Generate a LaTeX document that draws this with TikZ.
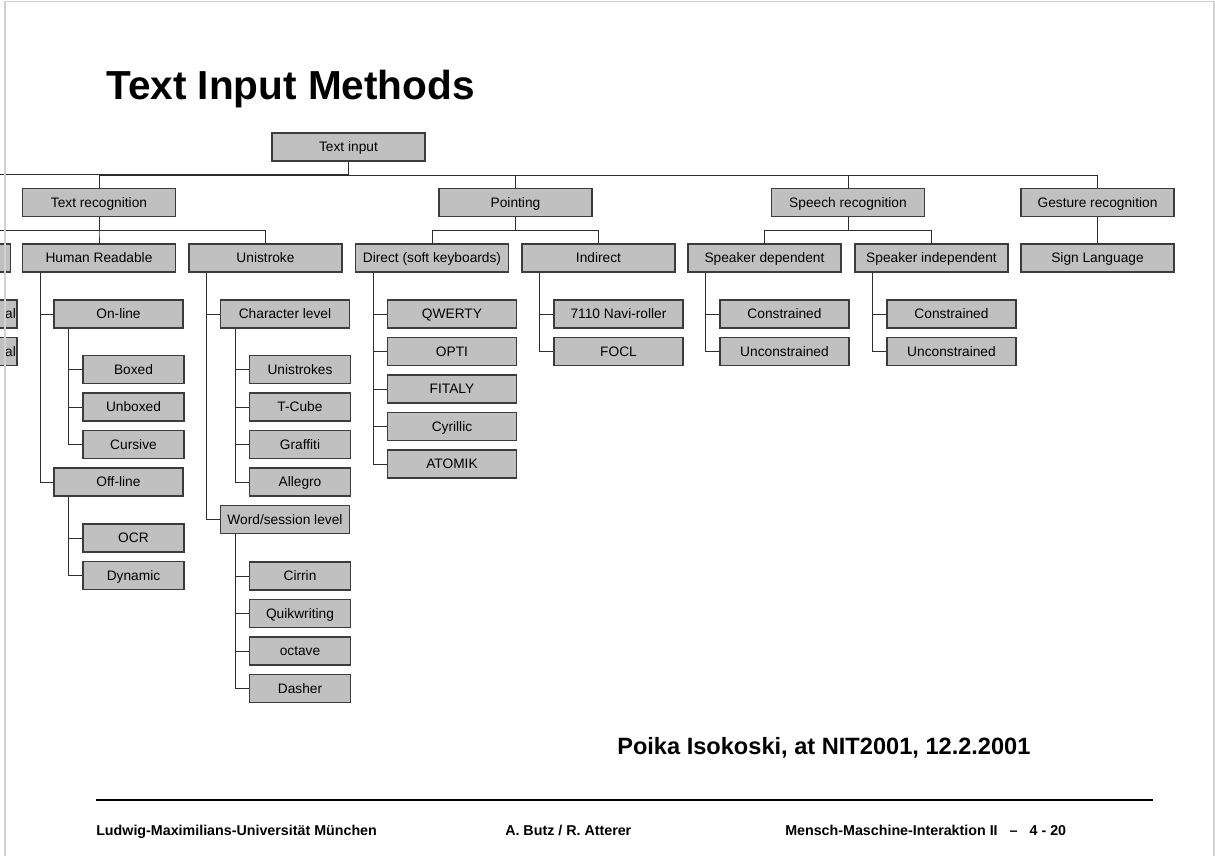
\documentclass[tikz,border=0pt]{standalone}
\usepackage{fontspec}
\setmainfont{Liberation Sans}
\usetikzlibrary{calc}
\definecolor{boxgray}{RGB}{192,192,192}
\definecolor{boxline}{RGB}{60,60,60}
\definecolor{edgegray}{RGB}{45,45,45}
\definecolor{framegray}{RGB}{210,210,210}
% trunk offsets of the indented lists (from the parent's left edge)
\def\trunkA{13.875pt}
\def\trunkB{11.625pt}
\begin{document}
\begin{tikzpicture}[x=0.75pt,y=-0.75pt,
  box/.style={draw=boxline, fill=boxgray, line width=0.85pt, inner sep=0pt,
    minimum height=21pt, text height=7.4pt, text depth=0pt,
    font=\fontsize{10.3}{12}\selectfont},
  bigbox/.style={box, minimum width=114.75pt},
  midbox/.style={box, minimum width=96.75pt},
  smallbox/.style={box, minimum width=75.75pt},
  link/.style={draw=edgegray, line width=0.75pt},
  foot/.style={inner sep=0pt, anchor=base west, font=\fontsize{10.7}{12}\selectfont\bfseries}]
\useasboundingbox (0,0) rectangle (1215,856);
\clip (0,0) rectangle (1215,856);

% title
\node[anchor=base west, inner sep=0pt, font=\fontsize{30.4}{36}\selectfont\bfseries] (title) at (106,100) {Text Input Methods};

% root and first level
\node[bigbox] (ti) at (348.5,147) {Text input};
\node[bigbox] (tr) at (99,202.5) {Text recognition};
\node[bigbox] (pt) at (515.5,202.5) {Pointing};
\node[bigbox] (sr) at (848,202.5) {Speech recognition};
\node[bigbox] (gr) at (1097.5,202.5) {Gesture recognition};
\coordinate (busw) at (-10,174.75);

% second level
\node[bigbox] (mr) at (-66,258) {};
\node[bigbox] (hr) at (99,258) {Human Readable};
\node[bigbox] (us) at (265.5,258) {Unistroke};
\node[bigbox] (dsk) at (432,258) {Direct (soft keyboards)};
\node[bigbox] (ind) at (598.5,258) {Indirect};
\node[bigbox] (spd) at (764.5,258) {Speaker dependent};
\node[bigbox] (spi) at (931.5,258) {Speaker independent};
\node[bigbox] (sl) at (1097.5,258) {Sign Language};

% leftmost group, mostly outside the page
\node[midbox, text width=95pt, align=right] (mra) at (-47.5,314) {al};
\node[midbox, text width=95pt, align=right] (mrb) at (-47.5,351.5) {al};

% human readable
\node[midbox] (on) at (118.5,314) {On-line};
\node[smallbox] (bx) at (133.5,369.5) {Boxed};
\node[smallbox] (ubx) at (133.5,407) {Unboxed};
\node[smallbox] (cur) at (133.5,444.5) {Cursive};
\node[midbox] (off) at (118.5,482) {Off-line};
\node[smallbox] (ocr) at (133.5,538) {OCR};
\node[smallbox] (dyn) at (133.5,575.5) {Dynamic};

% unistroke
\node[midbox] (chl) at (285,314) {Character level};
\node[smallbox] (uni) at (300,369.5) {Unistrokes};
\node[smallbox] (tc) at (300,407) {T-Cube};
\node[smallbox] (gra) at (300,444.5) {Graffiti};
\node[smallbox] (all) at (300,482) {Allegro};
\node[midbox] (wsl) at (285,519.5) {Word/session level};
\node[smallbox] (cir) at (300,576) {Cirrin};
\node[smallbox] (qui) at (300,613.5) {Quikwriting};
\node[smallbox] (oct) at (300,651) {octave};
\node[smallbox] (das) at (300,688.5) {Dasher};

% soft keyboards
\node[midbox] (qw) at (452,314) {QWERTY};
\node[midbox] (opt) at (452,351.5) {OPTI};
\node[midbox] (fit) at (452,389) {FITALY};
\node[midbox] (cyr) at (452,426.5) {Cyrillic};
\node[midbox] (ato) at (452,464) {ATOMIK};

% indirect pointing
\node[midbox] (nav) at (618.5,314) {7110 Navi-roller};
\node[midbox] (foc) at (618.5,351.5) {FOCL};

% speech
\node[midbox] (dc) at (784.5,314) {Constrained};
\node[midbox] (du) at (784.5,351.5) {Unconstrained};
\node[midbox] (ic) at (951.5,314) {Constrained};
\node[midbox] (iu) at (951.5,351.5) {Unconstrained};

% organisation-chart connectors
\draw[link] (busw) -- (busw -| ti.south);
\foreach \c in {tr,pt,sr,gr}
  \draw[link] (ti.south) -- ++(0,13.75) -| (\c.north);
\foreach \c in {mr,hr,us}
  \draw[link] (tr.south) -- ++(0,13.75) -| (\c.north);
\foreach \c in {dsk,ind}
  \draw[link] (pt.south) -- ++(0,13.75) -| (\c.north);
\foreach \c in {spd,spi}
  \draw[link] (sr.south) -- ++(0,13.75) -| (\c.north);
\draw[link] (gr.south) -- (sl.north);

% indented list connectors
\foreach \p/\c in {mr/mra, mr/mrb, hr/on, hr/off, us/chl, us/wsl,
    dsk/qw, dsk/opt, dsk/fit, dsk/cyr, dsk/ato, ind/nav, ind/foc,
    spd/dc, spd/du, spi/ic, spi/iu}
  \draw[link] ([xshift=\trunkA]\p.south west) |- (\c.west);
\foreach \p/\c in {on/bx, on/ubx, on/cur, off/ocr, off/dyn,
    chl/uni, chl/tc, chl/gra, chl/all, wsl/cir, wsl/qui, wsl/oct, wsl/das}
  \draw[link] ([xshift=\trunkB]\p.south west) |- (\c.west);

% source line
\node[inner sep=0pt, anchor=base west, font=\fontsize{17.7}{20}\selectfont\bfseries] (src) at (617,754) {Poika Isokoski, at NIT2001, 12.2.2001};

% footer
\draw[line width=1.7pt] (96,800) -- (1153,800);
\node[foot] (fa) at (96,835) {Ludwig-Maximilians-Universität München};
\node[foot] (fb) at (505,835) {A. Butz / R. Atterer};
\node[foot] (fc) at (785,835) {Mensch-Maschine-Interaktion II\hspace{9pt}–\hspace{9pt}4 - 20};

% page frame
\draw[framegray, line width=1.1pt] (5,856) -- (5,1.5) -- (1214,1.5) -- (1214,856);
\end{tikzpicture}
\end{document}
